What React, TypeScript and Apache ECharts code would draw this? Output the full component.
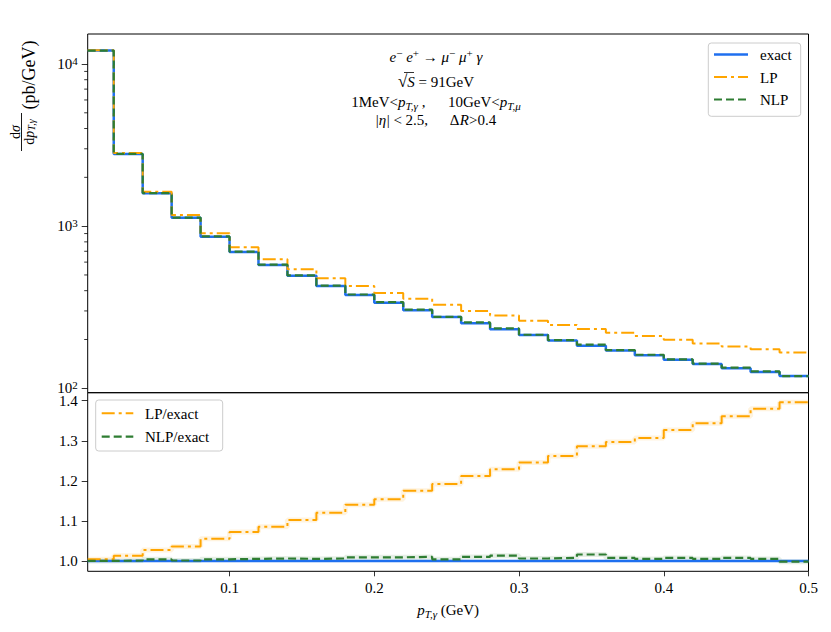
import React, { useEffect, useRef } from 'react';
import * as echarts from 'echarts';

// ---- data ----
const binEdges = [0.002, 0.02, 0.04, 0.06, 0.08, 0.10, 0.12, 0.14, 0.16, 0.18, 0.20, 0.22, 0.24, 0.26,
  0.28, 0.30, 0.32, 0.34, 0.36, 0.38, 0.40, 0.42, 0.44, 0.46, 0.48, 0.50];
const exactValues = [12100, 2786, 1594, 1128, 861, 693, 576, 495, 427, 376, 337, 303, 275, 252, 231,
  213, 197, 183, 171, 160, 150, 141, 133, 126, 119];
const lpValues = [12150, 2826, 1631, 1171, 904, 741, 625, 542, 477, 427, 387, 357, 327, 300, 281,
  261, 246, 232, 220, 210, 199, 189, 181, 174, 166];
const nlpValues = [12100, 2789, 1600, 1129, 864, 696, 579, 497, 430, 379, 340, 306, 276, 255, 234,
  214, 198, 186, 172, 161, 151, 142, 134, 127, 119];
const exactRatio = [1, 1, 1, 1, 1, 1, 1, 1, 1, 1, 1, 1, 1, 1, 1, 1, 1, 1, 1, 1, 1, 1, 1, 1, 1];
const lpRatio = [1.004, 1.013, 1.027, 1.036, 1.055, 1.072, 1.085, 1.102, 1.120, 1.140, 1.154, 1.175,
  1.192, 1.212, 1.229, 1.246, 1.262, 1.286, 1.297, 1.307, 1.327, 1.344, 1.361, 1.380, 1.396];
const nlpRatio = [1.000, 1.001, 1.004, 1.001, 1.004, 1.005, 1.006, 1.005, 1.006, 1.009, 1.009, 1.010,
  1.004, 1.010, 1.013, 1.006, 1.0075, 1.016, 1.0075, 1.005, 1.0075, 1.005, 1.0075, 1.005, 0.998];
const logMajorTicks = [100, 1000, 10000];
const logMinorTicks = [200, 300, 400, 500, 600, 700, 800, 900, 2000, 3000, 4000, 5000, 6000, 7000, 8000, 9000];
const xTicks = [0.1, 0.2, 0.3, 0.4, 0.5];
const ratioTicks = [1.0, 1.1, 1.2, 1.3, 1.4];

const X_MIN = 0.002;
const X_MAX = 0.5;
const Y_TOP_MIN = 93.95;
const Y_TOP_MAX = 15310;
const R_MIN = 0.974;
const R_MAX = 1.42;

const SERIF = '"Liberation Serif", "DejaVu Serif", serif';
const BLUE = '#1f6fef';
const ORANGE = '#ffa500';
const GREEN = '#2e7d32';
const DASHDOT = [13, 4, 3, 4];
const DASHED = [8, 4];

const stepData = (vals: number[]) => binEdges.map((e, i) => [e, vals[Math.min(i, vals.length - 1)]]);

const gRich = {
  n: { fontFamily: SERIF, fontSize: 15, fill: '#000', lineHeight: 19 },
  i: { fontFamily: SERIF, fontSize: 15, fontStyle: 'italic', fill: '#000', lineHeight: 19 },
  sup: { fontFamily: SERIF, fontSize: 11, fill: '#000', lineHeight: 10, verticalAlign: 'top' },
  sub: { fontFamily: SERIF, fontSize: 11, fontStyle: 'italic', fill: '#000', lineHeight: 10, verticalAlign: 'bottom' },
  r: { fontFamily: SERIF, fontSize: 17, fill: '#000', lineHeight: 19 },
};

function gText(x: number, y: number, text: string, extra: any = {}) {
  return {
    type: 'text', x, y, silent: true,
    style: { text, rich: gRich, align: 'center', verticalAlign: 'middle', fill: '#000', fontFamily: SERIF, fontSize: 15, ...extra },
  };
}

export default function App() {
  const ref = useRef<HTMLDivElement>(null);
  useEffect(() => {
    if (!ref.current) return;
    const chart = echarts.init(ref.current, undefined, { renderer: 'svg' });

    const tickRender = (params: any, api: any) => {
      const p = api.coord([api.value(0), api.value(1)]);
      return {
        type: 'line',
        shape: { x1: p[0] - 3.5, y1: p[1], x2: p[0], y2: p[1] },
        style: { stroke: '#000', lineWidth: 0.8 },
      };
    };

    const legendLine = (x1: number, x2: number, y: number, color: string, width: number, dash?: number[]) => ({
      type: 'line', silent: true,
      shape: { x1, y1: y, x2, y2: y },
      style: { stroke: color, lineWidth: width, lineDash: dash || null },
    });
    const legendText = (x: number, y: number, text: string) => ({
      type: 'text', x, y, silent: true,
      style: { text, fill: '#000', fontFamily: SERIF, fontSize: 15, align: 'left', verticalAlign: 'middle' },
    });

    const option: any = {
      animation: false,
      backgroundColor: '#fff',
      grid: [
        { left: 87.7, width: 720.8, top: 34, height: 358.7, show: true, borderColor: '#000', borderWidth: 1, outerBoundsMode: 'none', containLabel: false },
        { left: 87.7, width: 720.8, top: 392.7, height: 178.6, show: true, borderColor: '#000', borderWidth: 1, outerBoundsMode: 'none', containLabel: false },
      ],
      xAxis: [
        {
          gridIndex: 0, type: 'value', min: X_MIN, max: X_MAX,
          axisLine: { show: false }, axisTick: { show: false }, axisLabel: { show: false }, splitLine: { show: false },
        },
        {
          gridIndex: 1, type: 'value', min: X_MIN, max: X_MAX,
          axisLine: { show: false }, splitLine: { show: false },
          axisTick: { customValues: xTicks, length: 5, lineStyle: { color: '#000', width: 0.8 } },
          axisLabel: { customValues: xTicks, formatter: (v: number) => v.toFixed(1), color: '#000', fontFamily: SERIF, fontSize: 15, margin: 9 },
          name: '{i|p}{sub|T,γ}{n| (GeV)}',
          nameLocation: 'middle',
          nameGap: 29,
          nameTextStyle: {
            rich: {
              n: { fontFamily: SERIF, fontSize: 15, color: '#000', lineHeight: 19 },
              i: { fontFamily: SERIF, fontSize: 15, fontStyle: 'italic', color: '#000', lineHeight: 19 },
              sub: { fontFamily: SERIF, fontSize: 11, fontStyle: 'italic', color: '#000', lineHeight: 10, verticalAlign: 'bottom' },
            },
          },
        },
      ],
      yAxis: [
        {
          gridIndex: 0, type: 'log', logBase: 10, min: Y_TOP_MIN, max: Y_TOP_MAX,
          axisLine: { show: false }, splitLine: { show: false }, minorTick: { show: false },
          axisTick: { customValues: logMajorTicks, length: 6, lineStyle: { color: '#000', width: 0.8 } },
          axisLabel: {
            customValues: logMajorTicks,
            margin: 10,
            formatter: (v: number) => '{b|10}{s|' + Math.round(Math.log10(v)) + '}',
            rich: {
              b: { fontFamily: SERIF, fontSize: 15, color: '#000', lineHeight: 17 },
              s: { fontFamily: SERIF, fontSize: 11, color: '#000', lineHeight: 9, verticalAlign: 'top' },
            },
          },
        },
        {
          gridIndex: 1, type: 'value', min: R_MIN, max: R_MAX,
          axisLine: { show: false }, splitLine: { show: false },
          axisTick: { customValues: ratioTicks, length: 6, lineStyle: { color: '#000', width: 0.8 } },
          axisLabel: { customValues: ratioTicks, formatter: (v: number) => v.toFixed(1), color: '#000', fontFamily: SERIF, fontSize: 15, margin: 10 },
        },
      ],
      series: [
        {
          name: 'exact', type: 'line', xAxisIndex: 0, yAxisIndex: 0, step: 'end', symbol: 'none',
          lineStyle: { color: BLUE, width: 2.5 }, data: stepData(exactValues), z: 2,
        },
        {
          name: 'LP', type: 'line', xAxisIndex: 0, yAxisIndex: 0, step: 'end', symbol: 'none',
          lineStyle: { color: ORANGE, width: 2, type: DASHDOT }, data: stepData(lpValues), z: 3,
        },
        {
          name: 'NLP', type: 'line', xAxisIndex: 0, yAxisIndex: 0, step: 'end', symbol: 'none',
          lineStyle: { color: GREEN, width: 2.2, type: DASHED }, data: stepData(nlpValues), z: 4,
        },
        {
          name: 'minorTicks', type: 'custom', xAxisIndex: 0, yAxisIndex: 0, silent: true, clip: false,
          renderItem: tickRender, data: logMinorTicks.map((v) => [X_MIN, v]), z: 5,
        },
        {
          name: 'LP/exact band', type: 'line', xAxisIndex: 1, yAxisIndex: 1, step: 'end', symbol: 'none', silent: true,
          lineStyle: { color: 'rgba(255,165,0,0.13)', width: 5 }, data: stepData(lpRatio), z: 1,
        },
        {
          name: 'NLP/exact band', type: 'line', xAxisIndex: 1, yAxisIndex: 1, step: 'end', symbol: 'none', silent: true,
          lineStyle: { color: 'rgba(46,125,50,0.12)', width: 5 }, data: stepData(nlpRatio), z: 1,
        },
        {
          name: 'exact/exact', type: 'line', xAxisIndex: 1, yAxisIndex: 1, step: 'end', symbol: 'none',
          lineStyle: { color: BLUE, width: 2.5 }, data: stepData(exactRatio), z: 2,
        },
        {
          name: 'LP/exact', type: 'line', xAxisIndex: 1, yAxisIndex: 1, step: 'end', symbol: 'none',
          lineStyle: { color: ORANGE, width: 2, type: DASHDOT }, data: stepData(lpRatio), z: 3,
        },
        {
          name: 'NLP/exact', type: 'line', xAxisIndex: 1, yAxisIndex: 1, step: 'end', symbol: 'none',
          lineStyle: { color: GREEN, width: 2.2, type: DASHED }, data: stepData(nlpRatio), z: 4,
        },
      ],
      graphic: [
        // y-axis title (rotated)
        {
          type: 'text', x: 28.5, y: 75, rotation: Math.PI / 2, silent: true,
          style: { text: '(pb/GeV)', fontFamily: SERIF, fontSize: 18, fill: '#000', align: 'center', verticalAlign: 'middle' },
        },
        {
          type: 'text', x: 15, y: 132, rotation: Math.PI / 2, silent: true,
          style: {
            text: '{n|d}{i|σ}', align: 'center', verticalAlign: 'middle',
            rich: {
              n: { fontFamily: SERIF, fontSize: 14, fill: '#000', lineHeight: 15 },
              i: { fontFamily: SERIF, fontSize: 14, fontStyle: 'italic', fill: '#000', lineHeight: 15 },
            },
          },
        },
        {
          type: 'line', silent: true, shape: { x1: 21.5, y1: 113, x2: 21.5, y2: 151 },
          style: { stroke: '#000', lineWidth: 0.9 },
        },
        {
          type: 'text', x: 29, y: 132, rotation: Math.PI / 2, silent: true,
          style: {
            text: '{n|d}{i|p}{sub|T,γ}', align: 'center', verticalAlign: 'middle',
            rich: {
              n: { fontFamily: SERIF, fontSize: 14, fill: '#000', lineHeight: 15 },
              i: { fontFamily: SERIF, fontSize: 14, fontStyle: 'italic', fill: '#000', lineHeight: 15 },
              sub: { fontFamily: SERIF, fontSize: 10, fontStyle: 'italic', fill: '#000', lineHeight: 8, verticalAlign: 'bottom' },
            },
          },
        },
        // process annotation
        gText(436, 56.7, '{i|e}{sup|−}{i| e}{sup|+}{n| → }{i|μ}{sup|−}{i| μ}{sup|+}{i| γ}'),
        gText(436, 81.7, '{r|√}{i|S}{n| = 91GeV}'),
        {
          type: 'line', silent: true, shape: { x1: 404, y1: 72.5, x2: 414, y2: 72.5 },
          style: { stroke: '#000', lineWidth: 0.8 },
        },
        gText(436, 101.7, '{n|1MeV<}{i|p}{sub|T,γ}{n| ,      10GeV<}{i|p}{sub|T,μ}'),
        gText(436, 120, '{n||}{i|η}{n|| < 2.5,      Δ}{i|R}{n|>0.4}'),
        // legend (top)
        {
          type: 'rect', silent: true, shape: { x: 708.3, y: 43, width: 92.4, height: 73.3, r: 3 },
          style: { fill: 'rgba(255,255,255,0.8)', stroke: '#cccccc', lineWidth: 1 }, z: 10,
        },
        { ...legendLine(714, 748, 54.5, BLUE, 2.5), z: 11 },
        { ...legendText(760, 55, 'exact'), z: 11 },
        { ...legendLine(714, 748, 77, ORANGE, 2, DASHDOT), z: 11 },
        { ...legendText(760, 77.5, 'LP'), z: 11 },
        { ...legendLine(714, 748, 99.5, GREEN, 2.2, DASHED), z: 11 },
        { ...legendText(760, 100, 'NLP'), z: 11 },
        // legend (bottom)
        {
          type: 'rect', silent: true, shape: { x: 95.7, y: 400, width: 127, height: 51, r: 3 },
          style: { fill: 'rgba(255,255,255,0.8)', stroke: '#cccccc', lineWidth: 1 }, z: 10,
        },
        { ...legendLine(101.7, 133.3, 413.3, ORANGE, 2, DASHDOT), z: 11 },
        { ...legendText(145, 413.8, 'LP/exact'), z: 11 },
        { ...legendLine(101.7, 133.3, 436.7, GREEN, 2.2, DASHED), z: 11 },
        { ...legendText(145, 437.2, 'NLP/exact'), z: 11 },
      ],
    };
    chart.setOption(option);
    return () => chart.dispose();
  }, []);
  return <div ref={ref} style={{ position: 'absolute', left: 0, top: 0, width: 831, height: 632 }} />;
}
